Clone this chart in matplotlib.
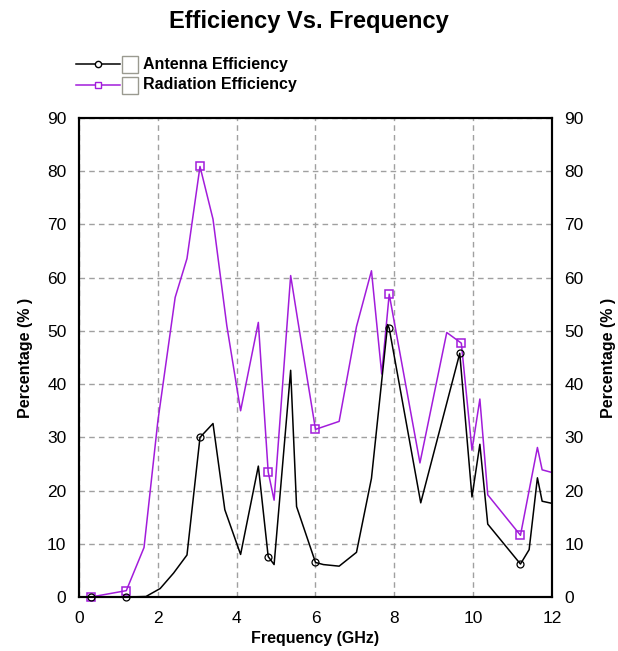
#!/usr/bin/env python
# -*- coding: utf-8 -*-
"""Plots antenna and radiation efficiency against frequency."""

import matplotlib
matplotlib.use('Agg')
import matplotlib.pyplot as plt
from matplotlib.lines import Line2D
from matplotlib.patches import Rectangle


# Antenna efficiency (black curve).
freq_ant = [0.3, 1.2, 1.7, 2.06, 2.4, 2.74, 3.07, 3.4, 3.7, 4.1, 4.55, 4.8,
            4.95, 5.37, 5.52, 6.0, 6.2, 6.6, 7.04, 7.42, 7.83, 7.87, 8.67,
            9.66, 9.97, 10.17, 10.37, 11.2, 11.42, 11.63, 11.75, 12.0]
eff_ant = [0.0, 0.0, 0.1, 1.6, 4.5, 7.9, 30.0, 32.6, 16.4, 8.0, 24.6, 7.6,
           6.1, 42.6, 17.0, 6.5, 6.1, 5.8, 8.4, 22.3, 51.2, 50.5, 17.7,
           45.8, 18.8, 28.7, 13.7, 6.2, 8.9, 22.4, 18.0, 17.6]
marks_ant = [0.3, 1.2, 3.07, 4.8, 6.0, 7.87, 9.66, 11.2]

# Radiation efficiency (purple curve).
freq_rad = [0.3, 1.2, 1.65, 2.0, 2.44, 2.74, 3.07, 3.4, 3.75, 4.1, 4.55, 4.8,
            4.95, 5.37, 5.55, 6.0, 6.6, 7.04, 7.42, 7.68, 7.87, 8.65, 9.33,
            9.7, 9.97, 10.17, 10.37, 11.2, 11.63, 11.75, 12.0]
eff_rad = [0.0, 1.2, 9.3, 33.0, 56.3, 63.6, 80.9, 71.0, 51.0, 35.0, 51.6,
           23.5, 18.2, 60.4, 52.0, 31.5, 33.0, 50.8, 61.3, 41.9, 56.9, 25.2,
           49.7, 47.7, 27.6, 37.2, 19.2, 11.6, 28.1, 23.9, 23.4]
marks_rad = [0.3, 1.2, 3.07, 4.8, 6.0, 7.87, 9.7, 11.2]

x_ticks = [0, 2, 4, 6, 8, 10, 12]
y_ticks = [0, 10, 20, 30, 40, 50, 60, 70, 80, 90]

PURPLE = '#a21cdb'
FONT = 'Liberation Sans'


def main():
  plt.rcParams['font.family'] = FONT

  fig = plt.figure(figsize=(6.18, 6.51), dpi=100)
  ax = fig.add_axes([0.1278, 0.0829, 0.7654, 0.7358])

  # Grid and frame.
  ax.set_xlim(0, 12)
  ax.set_ylim(0, 90)
  ax.set_xticks(x_ticks)
  ax.set_yticks(y_ticks)
  ax.grid(True, ls=(0, (4, 3)), color='#a0a0a0', lw=1.0)
  ax.set_axisbelow(True)
  for spine in ax.spines.values():
    spine.set_linewidth(1.5)
  ax.tick_params(length=0, labelsize=12.5, pad=9)
  ax.tick_params(axis='x', pad=10)

  # Data.
  idx_ant = [freq_ant.index(f) for f in marks_ant]
  idx_rad = [freq_rad.index(f) for f in marks_rad]
  ax.plot(freq_rad, eff_rad, color=PURPLE, lw=1.1, marker='s', ms=5.5,
          mfc='none', mec=PURPLE, mew=1.1, markevery=idx_rad,
          clip_on=False, zorder=3)
  ax.plot(freq_ant, eff_ant, color='black', lw=1.1, marker='o', ms=5,
          mfc='none', mec='black', mew=0.9, markevery=idx_ant,
          clip_on=False, zorder=4)

  ax.set_xlabel('Frequency (GHz)', fontsize=11.5, fontweight='bold',
                labelpad=4)
  ax.set_ylabel('Percentage (% )', fontsize=11.5, fontweight='bold',
                labelpad=10)

  # Right axis mirrors the left.
  ax2 = ax.twinx()
  ax2.set_ylim(0, 90)
  ax2.set_yticks(y_ticks)
  ax2.tick_params(length=0, labelsize=12.5, pad=9)
  ax2.set_ylabel('Percentage (% )', fontsize=11.5, fontweight='bold',
                 rotation=90, labelpad=12)
  for spine in ax2.spines.values():
    spine.set_linewidth(1.5)

  fig.text(0.5, 1 - 28 / 651.0, 'Efficiency Vs. Frequency', ha='center',
           va='baseline', fontsize=17, fontweight='bold')

  # Legend drawn by hand, with the little checkboxes.
  entries = [('Antenna Efficiency', 'black', 'o', 64),
             ('Radiation Efficiency', PURPLE, 's', 85)]
  W, H = 618.0, 651.0
  for label, color, marker, ypix in entries:
    yf = 1 - ypix / H
    fig.add_artist(Line2D([76 / W, 120 / W], [yf, yf], color=color, lw=1.1,
                          transform=fig.transFigure))
    fig.add_artist(Line2D([98 / W], [yf], color=color, marker=marker, ms=4.5,
                          mfc='white', mec=color, mew=1.0,
                          transform=fig.transFigure))
    fig.add_artist(Rectangle((122 / W, yf - 8.5 / H), 16 / W, 17 / H,
                             facecolor='white', edgecolor='#9a9a90', lw=1.0,
                             transform=fig.transFigure))
    fig.text(143 / W, yf, label, ha='left', va='center', fontsize=11.5,
             fontweight='bold')

  fig.savefig('out.png', dpi=100)
  plt.close(fig)


if __name__ == '__main__':
  main()
